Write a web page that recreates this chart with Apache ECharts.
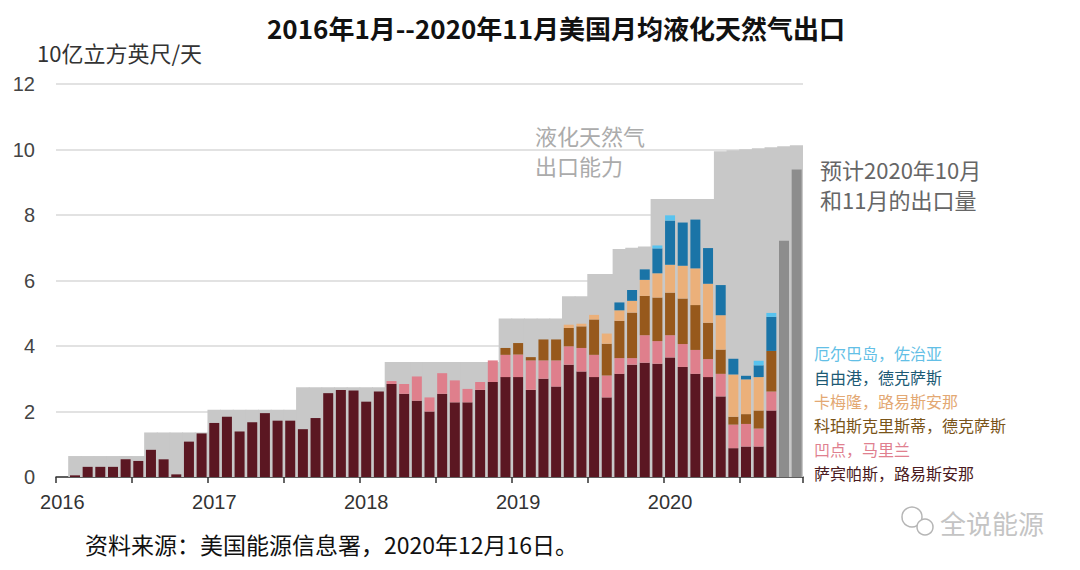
<!DOCTYPE html>
<html>
<head>
<meta charset="utf-8">
<script src="https://cdn.jsdelivr.net/npm/echarts@6/dist/echarts.min.js"></script>
<style>
html,body{margin:0;padding:0;background:#fff;}
#c{width:1080px;height:570px;}
</style>
</head>
<body>
<div id="c"></div>
<script>
// Months Jan 2016 .. Nov 2020
const months = [];
for (let y = 2016; y <= 2020; y++) {
  for (let m = 1; m <= 12; m++) {
    if (y === 2020 && m > 11) break;
    months.push(y + '-' + (m < 10 ? '0' + m : m));
  }
}
const yTicks = [0, 2, 4, 6, 8, 10, 12];

// Bcf/d by terminal (component values, stacked)
const sabinePass = [0, 0.05, 0.31, 0.31, 0.31, 0.54, 0.49, 0.83, 0.54, 0.08, 1.08, 1.33,
  1.65, 1.84, 1.39, 1.67, 1.95, 1.72, 1.72, 1.46, 1.80, 2.56, 2.66, 2.64,
  2.30, 2.61, 2.84, 2.54, 2.33, 2.00, 2.54, 2.28, 2.28, 2.66, 2.90, 3.05,
  3.05, 2.66, 3.00, 2.76, 3.43, 3.22, 3.05, 2.43, 3.15, 3.43, 3.49, 3.46,
  3.65, 3.36, 3.15, 3.05, 2.46, 0.88, 0.93, 0.93, 2.03, null, null];
const covePoint = [0, 0, 0, 0, 0, 0, 0, 0, 0, 0, 0, 0,
  0, 0, 0, 0, 0, 0, 0, 0, 0, 0, 0, 0,
  0, 0, 0.09, 0.30, 0.74, 0.43, 0.63, 0.67, 0.41, 0.24, 0.66, 0.68,
  0.69, 0.90, 0.56, 0.80, 0.56, 0.72, 0.68, 0.67, 0.48, 0.20, 0.84, 0.69,
  0.68, 0.70, 0.73, 0.55, 0.69, 0.72, 0.69, 0.55, 0.58, null, null];
const corpusChristi = [0, 0, 0, 0, 0, 0, 0, 0, 0, 0, 0, 0,
  0, 0, 0, 0, 0, 0, 0, 0, 0, 0, 0, 0,
  0, 0, 0, 0, 0, 0, 0, 0, 0, 0, 0, 0.21,
  0.35, 0.10, 0.64, 0.64, 0.56, 0.66, 1.08, 0.97, 1.14, 1.39, 1.20, 1.33,
  1.30, 1.39, 1.37, 1.11, 0.74, 0.24, 0.30, 0.55, 1.24, null, null];
const cameron = [0, 0, 0, 0, 0, 0, 0, 0, 0, 0, 0, 0,
  0, 0, 0, 0, 0, 0, 0, 0, 0, 0, 0, 0,
  0, 0, 0, 0, 0, 0, 0, 0, 0, 0, 0, 0,
  0, 0, 0, 0, 0.10, 0.08, 0.14, 0.31, 0.32, 0.36, 0.49, 0.74,
  0.85, 1.00, 1.12, 1.19, 1.05, 1.29, 1.06, 1.02, 0, null, null];
const freeport = [0, 0, 0, 0, 0, 0, 0, 0, 0, 0, 0, 0,
  0, 0, 0, 0, 0, 0, 0, 0, 0, 0, 0, 0,
  0, 0, 0, 0, 0, 0, 0, 0, 0, 0, 0, 0,
  0, 0, 0, 0, 0, 0, 0, 0, 0.24, 0.33, 0.32, 0.76,
  1.35, 1.32, 1.49, 1.09, 0.92, 0.48, 0.11, 0.36, 1.04, null, null];
const elbaIsland = [0, 0, 0, 0, 0, 0, 0, 0, 0, 0, 0, 0,
  0, 0, 0, 0, 0, 0, 0, 0, 0, 0, 0, 0,
  0, 0, 0, 0, 0, 0, 0, 0, 0, 0, 0, 0,
  0, 0, 0, 0, 0, 0, 0, 0, 0, 0, 0, 0.09,
  0.16, 0, 0, 0, 0, 0, 0, 0.14, 0.12, null, null];
const projected = [null, null, null, null, null, null, null, null, null, null, null, null,
  null, null, null, null, null, null, null, null, null, null, null, null,
  null, null, null, null, null, null, null, null, null, null, null, null,
  null, null, null, null, null, null, null, null, null, null, null, null,
  null, null, null, null, null, null, null, null, null, 7.21, 9.39];
const capacity = [0, 0.64, 0.64, 0.64, 0.64, 0.64, 0.64, 1.36, 1.36, 1.36, 1.36, 1.36,
  2.05, 2.05, 2.05, 2.05, 2.05, 2.05, 2.05, 2.74, 2.74, 2.74, 2.74, 2.74,
  2.74, 2.74, 3.51, 3.51, 3.51, 3.51, 3.51, 3.51, 3.51, 3.51, 3.51, 4.84,
  4.84, 4.84, 4.84, 4.84, 5.52, 5.52, 6.20, 6.20, 6.96, 7.00, 7.04, 8.49,
  8.49, 8.49, 8.49, 8.49, 9.95, 9.98, 10.01, 10.04, 10.07, 10.10, 10.13];

const names = {
  sabine: '萨宾帕斯，路易斯安那',
  cove: '凹点，马里兰',
  corpus: '科珀斯克里斯蒂，德克萨斯',
  cameron: '卡梅隆，路易斯安那',
  freeport: '自由港，德克萨斯',
  elba: '厄尔巴岛，佐治亚'
};
const colors = {
  sabine: '#5b1722', cove: '#df7f8c', corpus: '#97591c',
  cameron: '#ebb07a', freeport: '#1a74a7', elba: '#58c3ef',
  capacity: '#c8c8c8', projected: '#8d8d8d'
};
const legendColors = {
  sabine: '#4a1a20', cove: '#e0808f', corpus: '#7a5418',
  cameron: '#e3a873', freeport: '#1d5a74', elba: '#63bfe6'
};

const CJK = '"Noto Sans CJK SC", "Noto Sans", sans-serif';
const LAT = '"Liberation Sans", Arial, sans-serif';

function stackSeries(key, data) {
  return {
    name: names[key], type: 'bar', stack: 'total', xAxisIndex: 0,
    data: data, barWidth: 10, itemStyle: { color: colors[key] },
    emphasis: { disabled: true }, z: 3
  };
}

const chart = echarts.init(document.getElementById('c'), null, { renderer: 'svg' });
chart.setOption({
  animation: false,
  backgroundColor: '#fff',
  grid: { left: 56, right: 277, top: 84, bottom: 93, containLabel: false },
  xAxis: [{
    type: 'category', data: months, boundaryGap: true,
    axisLine: { lineStyle: { color: '#333', width: 1.5 } },
    axisTick: { show: true, length: 6, interval: function (i) { return i % 6 === 0; }, lineStyle: { color: '#333', width: 1.5 } },
    axisLabel: {
      interval: function (i) { return i % 12 === 0; },
      formatter: function (v) { return v.slice(0, 4); },
      color: '#333', fontSize: 20, fontFamily: LAT, margin: 15
    },
    splitLine: { show: false }
  }, {
    type: 'category', data: months, boundaryGap: true, show: false
  }],
  yAxis: {
    type: 'value', min: yTicks[0], max: yTicks[yTicks.length - 1], interval: 2,
    axisLine: { show: false }, axisTick: { show: false },
    axisLabel: { color: '#444', fontSize: 20, fontFamily: LAT, margin: 21 },
    splitLine: { lineStyle: { color: '#e2e2e2', width: 2 } }
  },
  legend: {
    orient: 'vertical', left: 804, top: 340, icon: 'none',
    itemWidth: 0, itemHeight: 16, itemGap: 8, selectedMode: false,
    textStyle: { fontSize: 16, fontFamily: CJK },
    data: [
      { name: names.elba, textStyle: { color: legendColors.elba } },
      { name: names.freeport, textStyle: { color: legendColors.freeport } },
      { name: names.cameron, textStyle: { color: legendColors.cameron } },
      { name: names.corpus, textStyle: { color: legendColors.corpus } },
      { name: names.cove, textStyle: { color: legendColors.cove } },
      { name: names.sabine, textStyle: { color: legendColors.sabine } }
    ]
  },
  series: [
    {
      name: '液化天然气出口能力', type: 'bar', xAxisIndex: 1, data: capacity,
      barWidth: 13.6, z: 1,
      itemStyle: { color: colors.capacity },
      emphasis: { disabled: true }
    },
    stackSeries('sabine', sabinePass),
    stackSeries('cove', covePoint),
    stackSeries('corpus', corpusChristi),
    stackSeries('cameron', cameron),
    stackSeries('freeport', freeport),
    stackSeries('elba', elbaIsland),
    {
      name: '预计', type: 'bar', stack: 'total', xAxisIndex: 0, data: projected,
      barWidth: 10, itemStyle: { color: colors.projected }, emphasis: { disabled: true }, z: 3
    }
  ],
  graphic: [
    { type: 'text', x: 556, y: 27, style: { text: '2016年1月--2020年11月美国月均液化天然气出口', font: 'bold 26px ' + CJK, fill: '#111', align: 'center', textAlign: 'center', verticalAlign: 'middle', textVerticalAlign: 'middle' } },
    { type: 'text', x: 37, y: 52, style: { text: '10亿立方英尺/天', font: '22px ' + CJK, fill: '#333', align: 'left', textAlign: 'left', verticalAlign: 'middle', textVerticalAlign: 'middle' } },
    { type: 'text', x: 535, y: 135, style: { text: '液化天然气', font: '22px ' + CJK, fill: '#ababab', align: 'left', textAlign: 'left', verticalAlign: 'middle', textVerticalAlign: 'middle' } },
    { type: 'text', x: 535, y: 165, style: { text: '出口能力', font: '22px ' + CJK, fill: '#ababab', align: 'left', textAlign: 'left', verticalAlign: 'middle', textVerticalAlign: 'middle' } },
    { type: 'text', x: 820, y: 169, style: { text: '预计2020年10月', font: '22px ' + CJK, fill: '#666', align: 'left', textAlign: 'left', verticalAlign: 'middle', textVerticalAlign: 'middle' } },
    { type: 'text', x: 820, y: 199, style: { text: '和11月的出口量', font: '22px ' + CJK, fill: '#666', align: 'left', textAlign: 'left', verticalAlign: 'middle', textVerticalAlign: 'middle' } },
    { type: 'text', x: 85, y: 544, style: { text: '资料来源：美国能源信息署，2020年12月16日。', font: '23px ' + CJK, fill: '#111', align: 'left', textAlign: 'left', verticalAlign: 'middle', textVerticalAlign: 'middle' } },
    { type: 'circle', shape: { cx: 912, cy: 517, r: 10 }, style: { fill: 'none', stroke: '#b5b5b5', lineWidth: 1.5 } },
    { type: 'circle', shape: { cx: 925, cy: 527, r: 8 }, style: { fill: '#fff', stroke: '#b5b5b5', lineWidth: 1.5 } },
    { type: 'text', x: 940, y: 522, style: { text: '全说能源', font: '26px ' + CJK, fill: '#c4c4c4', align: 'left', textAlign: 'left', verticalAlign: 'middle', textVerticalAlign: 'middle' } }
  ]
});
</script>
</body>
</html>
